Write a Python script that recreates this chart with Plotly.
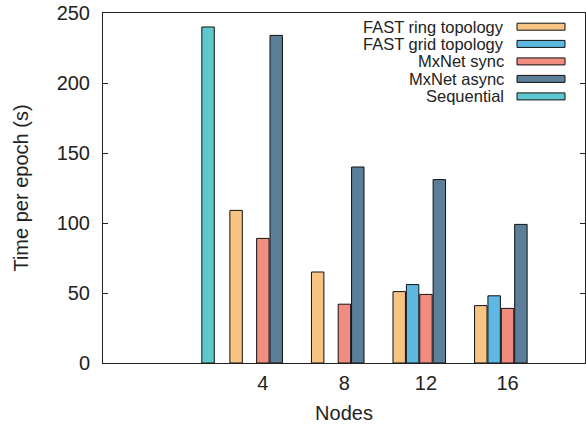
import plotly.graph_objects as go

# Training time per epoch for each configuration, grouped by node count
nodes = ["", "4", "8", "12", "16"]
ring_topology = [None, 109, 65, 51, 41]
grid_topology = [None, None, None, 56, 48]
mxnet_sync = [None, 89, 42, 49, 39]
mxnet_async = [None, 234, 140, 131, 99]
sequential = [240, None, None, None, None]

series_names = ["FAST ring topology", "FAST grid topology", "MxNet sync",
                "MxNet async", "Sequential"]
series_values = [ring_topology, grid_topology, mxnet_sync, mxnet_async, sequential]
series_colors = ["#F7C484", "#5DB8E2", "#F18C80", "#5B7E99", "#5EC8CF"]

FONT = "Liberation Sans, Arial, Helvetica, sans-serif"
INK = "#222222"

W, H = 586, 427
M_L, M_R, M_T, M_B = 103, 1, 13, 64
plot_w = W - M_L - M_R
plot_h = H - M_T - M_B

idx = list(range(len(nodes)))

fig = go.Figure()
for name, vals, col in zip(series_names, series_values, series_colors):
    fig.add_trace(go.Bar(
        x=idx, y=vals, name=name,
        marker=dict(color=col, line=dict(color="#111111", width=1)),
        showlegend=False,
    ))

# Legend drawn as right-aligned labels with swatches on their right
row_y = [26.7, 43.9, 61.4, 78.9, 96.4]
sw_x0, sw_x1 = 517, 565
text_right = 505
shapes = []
annotations = []
for name, col, yp in zip(series_names, series_colors, row_y):
    py = (H - M_B - yp) / plot_h
    h = 3.5 / plot_h
    shapes.append(dict(
        type="rect", xref="paper", yref="paper",
        x0=(sw_x0 - M_L) / plot_w, x1=(sw_x1 - M_L) / plot_w,
        y0=py - h, y1=py + h,
        fillcolor=col, line=dict(color="#111111", width=1),
    ))
    annotations.append(dict(
        xref="paper", yref="paper",
        x=(text_right - M_L) / plot_w, y=py,
        xanchor="right", yanchor="middle",
        text=name, showarrow=False, borderpad=0,
        font=dict(family=FONT, size=16.5, color=INK),
    ))

fig.update_layout(
    width=W, height=H,
    margin=dict(l=M_L, r=M_R, t=M_T, b=M_B),
    paper_bgcolor="white", plot_bgcolor="white",
    barmode="group", bargap=0.18, bargroupgap=0.07,
    font=dict(family=FONT, size=20, color=INK),
    shapes=shapes, annotations=annotations,
    xaxis=dict(
        range=[-0.96, 4.95],
        tickvals=idx, ticktext=nodes,
        ticks="", showgrid=False, zeroline=False,
        showline=True, linecolor=INK, linewidth=1, mirror=True,
        tickfont=dict(family=FONT, size=20, color=INK),
        ticklabelstandoff=2,
        title=dict(text="Nodes", font=dict(family=FONT, size=20, color=INK),
                   standoff=12),
    ),
    yaxis=dict(
        range=[0, 250], tickvals=[0, 50, 100, 150, 200, 250],
        ticks="inside", ticklen=5, tickcolor=INK, tickwidth=1,
        showgrid=False, zeroline=False,
        showline=True, linecolor=INK, linewidth=1, mirror="ticks",
        tickfont=dict(family=FONT, size=20, color=INK),
        ticklabelstandoff=8,
        title=dict(text="Time per epoch (s)",
                   font=dict(family=FONT, size=20, color=INK), standoff=22),
    ),
)

fig.write_html("out.html")
